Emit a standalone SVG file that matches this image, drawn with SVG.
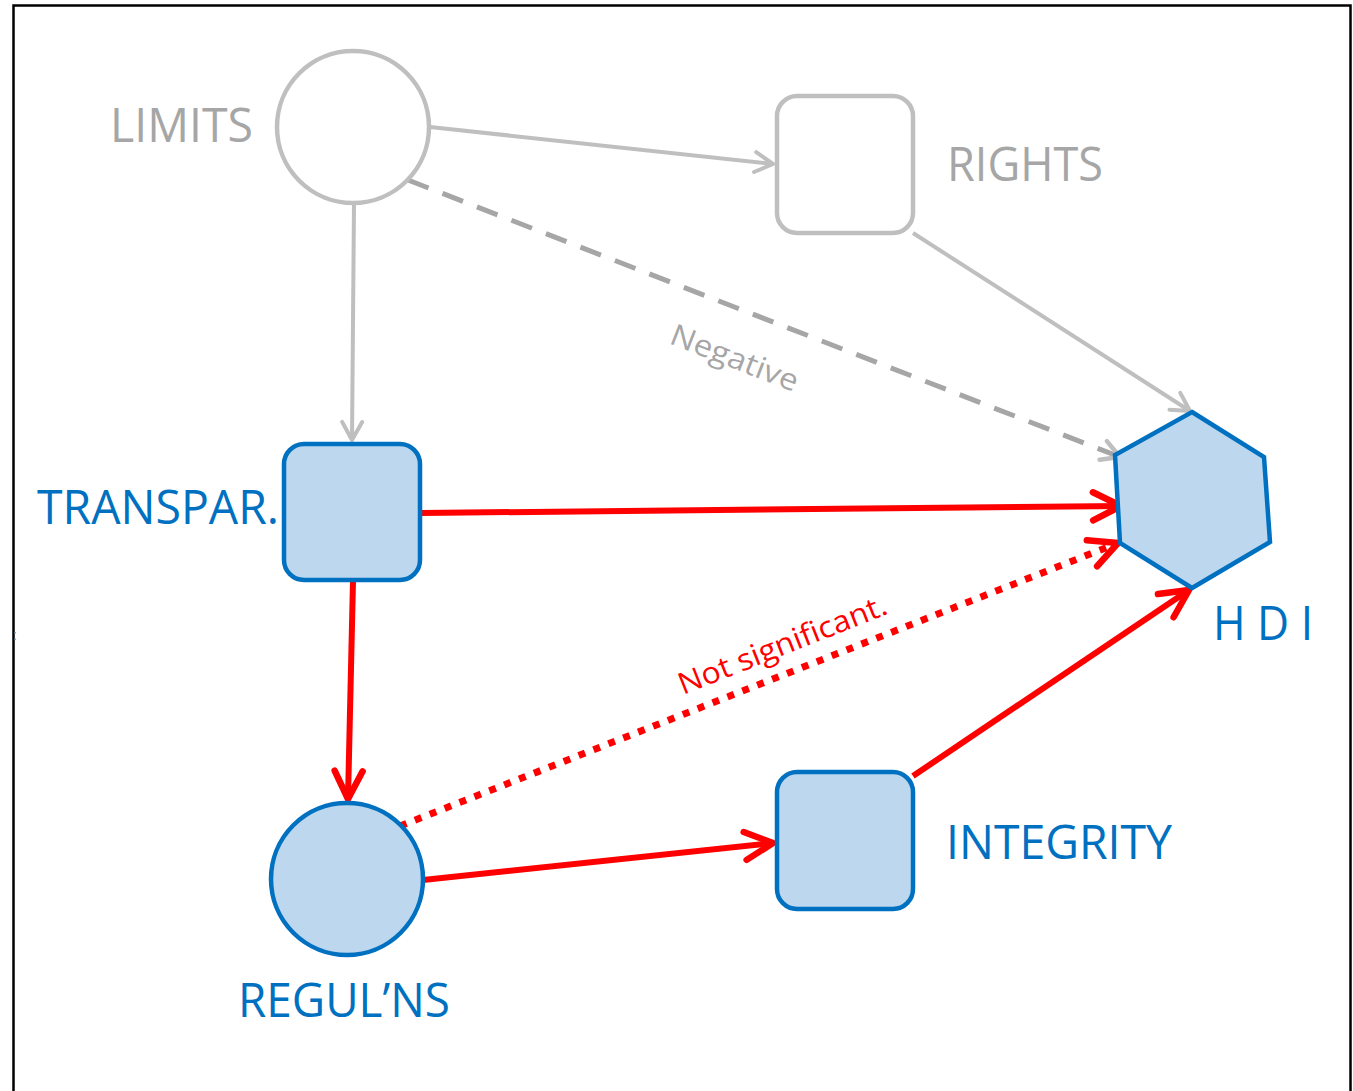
<svg xmlns="http://www.w3.org/2000/svg" width="1353" height="1091" viewBox="0 0 1353 1091">
  <style>
    .lbl { font-family: "Open Sans", "Liberation Sans", sans-serif; font-size: 47px; }
    .grey-lbl { fill: #a6a6a6; }
    .blue-lbl { fill: #0070c0; }
    .grey-node { fill: #ffffff; stroke: #bfbfbf; stroke-width: 4.5; }
    .blue-node { fill: #bdd7ee; stroke: #0070c0; stroke-width: 4.5; }
    .edge-grey { fill: none; stroke: #bfbfbf; stroke-width: 4; }
    .edge-dash { fill: none; stroke: #a6a6a6; stroke-width: 5; stroke-dasharray: 22 15; }
    .edge-red { fill: none; stroke: #ff0000; stroke-width: 6; }
    .edge-dot { fill: none; stroke: #ff0000; stroke-width: 7; stroke-dasharray: 7 9; }
    .edge-note { font-family: "Open Sans", "Liberation Sans", sans-serif; font-size: 30px; }
  </style>
  <defs>
    <marker id="arrow-grey" markerUnits="userSpaceOnUse" viewBox="-2 -2 24 28" markerWidth="24" markerHeight="28" refX="20" refY="12" orient="auto">
      <path d="M2,2 L20,12 L2,22" fill="none" stroke="#bfbfbf" stroke-width="4" stroke-linecap="round" stroke-linejoin="round"/>
    </marker>
    <marker id="arrow-dash" markerUnits="userSpaceOnUse" viewBox="-2 -2 24 28" markerWidth="24" markerHeight="28" refX="20" refY="12" orient="auto">
      <path d="M2,2 L20,12 L2,22" fill="none" stroke="#bfbfbf" stroke-width="4.5" stroke-linecap="round" stroke-linejoin="round"/>
    </marker>
    <marker id="arrow-red" markerUnits="userSpaceOnUse" viewBox="-4 -4 38 40" markerWidth="38" markerHeight="40" refX="30" refY="16" orient="auto">
      <path d="M2,2 L30,16 L2,30" fill="none" stroke="#ff0000" stroke-width="6.5" stroke-linecap="round" stroke-linejoin="round"/>
    </marker>
  </defs>

  <rect id="frame" x="13.5" y="5.5" width="1337" height="1095" fill="#ffffff" stroke="#000000" stroke-width="2.5"/>
  <text x="13" y="640" font-family="Liberation Sans, sans-serif" font-size="14" fill="#808080">:</text>

  <g id="connectors">
    <path class="edge-grey" d="M430,127 L773,164" marker-end="url(#arrow-grey)"/>
    <path class="edge-grey" d="M354,204 L352,440" marker-end="url(#arrow-grey)"/>
    <path class="edge-grey" d="M913,233 L1190,411" marker-end="url(#arrow-grey)"/>
    <path class="edge-dash" d="M408,180 L1120,457" marker-end="url(#arrow-dash)"/>
    <text class="edge-note grey-lbl" transform="translate(668,343) rotate(21.3)" textLength="135" lengthAdjust="spacingAndGlyphs">Negative</text>
    <path class="edge-red" d="M421,513 L1121,506" marker-end="url(#arrow-red)"/>
    <path class="edge-red" d="M353,581 L348,799" marker-end="url(#arrow-red)"/>
    <path class="edge-dot" d="M400,826 L1118,543" marker-end="url(#arrow-red)"/>
    <text class="edge-note" fill="#ff0000" transform="translate(683,695) rotate(-21.6)" textLength="222" lengthAdjust="spacingAndGlyphs">Not significant.</text>
    <path class="edge-red" d="M423,880 L773,843" marker-end="url(#arrow-red)"/>
    <path class="edge-red" d="M913,776 L1189,590" marker-end="url(#arrow-red)"/>
  </g>

  <g id="limits">
    <circle class="grey-node" cx="353" cy="127" r="76"/>
    <text class="lbl grey-lbl" x="110" y="142" textLength="143" lengthAdjust="spacingAndGlyphs">LIMITS</text>
  </g>
  <g id="rights">
    <rect class="grey-node" x="777" y="96" width="136" height="137" rx="20"/>
    <text class="lbl grey-lbl" x="947" y="181" textLength="156" lengthAdjust="spacingAndGlyphs">RIGHTS</text>
  </g>
  <g id="transpar">
    <rect class="blue-node" x="284" y="444" width="136" height="136" rx="20"/>
    <text class="lbl blue-lbl" x="37" y="524" textLength="242" lengthAdjust="spacingAndGlyphs">TRANSPAR.</text>
  </g>
  <g id="reguls">
    <circle class="blue-node" cx="347" cy="879" r="76"/>
    <text class="lbl blue-lbl" x="238" y="1017" textLength="212" lengthAdjust="spacingAndGlyphs">REGUL’NS</text>
  </g>
  <g id="integrity">
    <rect class="blue-node" x="777" y="772" width="136" height="137" rx="20"/>
    <text class="lbl blue-lbl" x="946" y="859" textLength="226" lengthAdjust="spacingAndGlyphs">INTEGRITY</text>
  </g>
  <g id="hdi">
    <polygon class="blue-node" points="1192,412 1264,457 1270,542 1192,588 1120,543 1115,455"/>
    <text class="lbl blue-lbl" x="1213" y="640" textLength="100" lengthAdjust="spacingAndGlyphs">H D I</text>
  </g>
</svg>
